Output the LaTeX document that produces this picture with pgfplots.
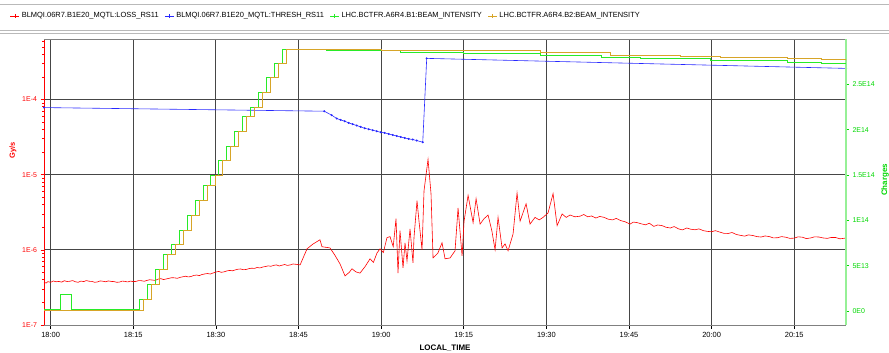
\documentclass[border=0pt]{standalone}
\usepackage{fontspec}
\setmainfont{Liberation Sans}
\usepackage{pgfplots}
\pgfplotsset{compat=1.18}
\definecolor{cred}{RGB}{255,0,0}
\definecolor{cblue}{RGB}{40,40,255}
\definecolor{cgreen}{RGB}{40,235,40}
\definecolor{corange}{RGB}{215,165,40}
\definecolor{cgrid}{RGB}{70,70,70}
\definecolor{rgreen}{RGB}{0,215,0}
\definecolor{raxis}{RGB}{150,240,150}
\begin{document}
\begin{tikzpicture}
\useasboundingbox (0,0) rectangle (889bp,353bp);
\begin{axis}[
  at={(44bp,28bp)}, anchor=south west, scale only axis,
  width=802bp, height=286bp,
  xmin=-1.2, xmax=144.4,
  ymode=log, ymin=1e-7, ymax=6.37e-4,
  axis x line*=bottom, axis y line*=left,
  x axis line style={draw=gray, line width=1pt, -},
  y axis line style={draw=cred, line width=0.8pt, -},
  xtick={0,15,30,45,60,75,90,105,120,135},
  xticklabels={18:00,18:15,18:30,18:45,19:00,19:15,19:30,19:45,20:00,20:15},
  ytick={1e-7,1e-6,1e-5,1e-4},
  yticklabels={1E-7,1E-6,1E-5,1E-4},
  minor ytick={2e-7,3e-7,4e-7,5e-7,6e-7,7e-7,8e-7,9e-7,2e-6,3e-6,4e-6,5e-6,6e-6,7e-6,8e-6,9e-6,2e-5,3e-5,4e-5,5e-5,6e-5,7e-5,8e-5,9e-5,2e-4,3e-4,4e-4,5e-4,6e-4},
  tick align=outside, major tick length=3.5bp, minor tick length=2bp,
  xtick style={black, line width=0.6pt},
  ytick style={cred, line width=0.6pt},
  grid=major,
  major grid style={cgrid, line width=0.9pt},
  /pgf/number format/assume math mode=true,
  xticklabel style={font=\fontsize{7.5}{9}\selectfont, black},
  yticklabel style={font=\fontsize{7}{8}\selectfont, text=cred},
  xlabel={LOCAL\_TIME},
  xlabel style={at={(axis description cs:0.5,0)}, anchor=center, yshift=-23bp, font=\bfseries\fontsize{8}{10}\selectfont},
  ylabel={Gy/s},
  ylabel style={at={(axis description cs:-0.0387,0.612)}, anchor=center, font=\bfseries\fontsize{7.5}{9}\selectfont, text=cred},
  legend columns=4,
  legend style={at={(axis description cs:-0.0424,1.0804)}, anchor=west, draw=none, fill=none, inner sep=0pt,
    font=\fontsize{7.5}{9}\selectfont, /tikz/every even column/.append style={column sep=4bp}},
  legend cell align=left,
  legend image code/.code={\draw[mark repeat=2,mark phase=2,#1] plot coordinates {(0bp,0bp) (4.5bp,0bp) (9bp,0bp)};},
]
\addlegendimage{cred, line width=0.6pt, mark=+, mark size=1.8pt}
\addlegendentry{BLMQI.06R7.B1E20\_MQTL:LOSS\_RS11}
\addlegendimage{cblue, line width=0.6pt, mark=+, mark size=1.8pt}
\addlegendentry{BLMQI.06R7.B1E20\_MQTL:THRESH\_RS11}
\addlegendimage{cgreen, line width=0.6pt, mark=+, mark size=1.8pt}
\addlegendentry{LHC.BCTFR.A6R4.B1:BEAM\_INTENSITY}
\addlegendimage{corange, line width=0.6pt, mark=+, mark size=1.8pt}
\addlegendentry{LHC.BCTFR.A6R4.B2:BEAM\_INTENSITY}
% threshold
\addplot[cblue, line width=0.6pt, mark=*, mark size=0.7pt, forget plot] coordinates {
(-1.2,7.8e-5) (49.69,6.98e-5) (51.03,6.18e-5) (51.94,5.58e-5) (52.66,5.35e-5) (53.39,5.14e-5)
(54.12,4.88e-5) (54.84,4.69e-5) (55.57,4.50e-5) (56.30,4.32e-5) (57.02,4.14e-5) (57.75,4.02e-5)
(58.48,3.90e-5) (59.20,3.78e-5) (59.93,3.66e-5) (60.65,3.59e-5) (61.38,3.48e-5) (62.11,3.37e-5)
(62.83,3.27e-5) (63.56,3.17e-5) (64.29,3.08e-5) (65.01,2.99e-5) (65.74,2.93e-5) (66.47,2.84e-5)
(67.56,2.70e-5) (68.28,3.52e-4) (144.4,2.59e-4)
};
% loss
\addplot[cred, line width=0.6pt, forget plot] coordinates {
(-1.2,3.70e-7) (-0.8,3.62e-7) (-0.5,3.78e-7) (0,3.70e-7) (0.5,3.85e-7) (1,3.76e-7) (1.5,3.80e-7) (2,3.72e-7) (2.5,3.88e-7)
(3,3.79e-7) (3.5,3.82e-7) (4,3.90e-7) (4.5,3.76e-7) (5,3.70e-7) (5.5,3.84e-7) (6,3.78e-7) (6.5,3.90e-7) (7,3.82e-7)
(7.5,3.80e-7) (8,3.70e-7) (8.5,3.74e-7) (9,3.86e-7) (9.5,3.82e-7) (10,3.76e-7) (10.5,3.86e-7) (11,3.80e-7) (11.5,3.78e-7)
(12,3.70e-7) (12.5,3.72e-7) (13,3.84e-7) (13.5,3.80e-7) (14,3.74e-7) (14.5,3.84e-7) (15,3.78e-7) (15.5,3.80e-7)
(16,3.90e-7) (16.5,3.88e-7) (17,3.82e-7) (17.5,3.92e-7) (18,4.00e-7) (18.5,3.96e-7) (19,3.92e-7) (19.5,4.08e-7)
(20,4.14e-7) (20.5,4.02e-7) (21,4.10e-7) (21.5,4.18e-7) (22,4.26e-7) (22.5,4.24e-7) (23,4.18e-7) (23.5,4.30e-7)
(24,4.38e-7) (24.5,4.46e-7) (25,4.36e-7) (25.5,4.42e-7) (26,4.56e-7) (26.5,4.62e-7) (27,4.54e-7) (27.5,4.70e-7)
(28,4.78e-7) (28.5,4.84e-7) (29,4.76e-7) (29.5,4.92e-7) (30,5.06e-7) (30.5,5.16e-7) (31,5.02e-7) (31.5,5.10e-7)
(32,5.24e-7) (32.5,5.32e-7) (33,5.26e-7) (33.5,5.40e-7) (34,5.52e-7) (34.5,5.56e-7) (35,5.44e-7) (35.5,5.48e-7)
(36,5.62e-7) (36.5,5.70e-7) (37,5.66e-7) (37.5,5.82e-7) (38,5.74e-7) (38.5,5.90e-7) (39,6.00e-7) (39.5,6.12e-7)
(40,6.04e-7) (40.5,6.22e-7) (41,6.30e-7) (41.5,6.10e-7) (42,6.24e-7) (42.5,6.38e-7) (43,6.20e-7) (43.5,6.30e-7)
(44,6.48e-7) (44.5,6.42e-7) (45.3,6.30e-7)
(46.55,1.03e-6) (47.6,1.19e-6) (48.9,1.36e-6) (49.27,1.10e-6) (50.72,1.06e-6) (51.6,8.5e-7)
(52.54,6.5e-7) (53.45,4.5e-7) (54.2,5.0e-7) (54.72,5.6e-7) (55.4,5.1e-7) (56.17,4.9e-7) (57.1,6.0e-7)
(57.99,7.6e-7) (58.6,6.8e-7) (59.26,9.1e-7) (59.8,1.03e-6) (60.4,9.2e-7) (61.07,1.45e-6) (61.62,1.50e-6) (62.2,1.1e-6)
(62.71,2.6e-6) (63.07,4.9e-7) (63.43,1.8e-6) (63.98,5.75e-7) (64.34,1.24e-6) (64.7,7.1e-7) (65.25,1.9e-6)
(65.79,6.7e-7) (65.97,1.45e-6) (66.52,4.5e-6) (66.88,2.4e-6) (67.43,1.0e-6) (67.79,6.1e-6) (68.52,1.6e-5)
(69.06,5.6e-6) (69.43,7.8e-7) (70.33,9.1e-7) (71.06,1.24e-6) (71.61,7.6e-7) (72.52,7.8e-7) (73.42,9.7e-7)
(73.97,3.6e-6) (74.7,8.3e-7) (75.06,2.4e-6) (75.79,5.3e-6) (76.7,2.3e-6) (77.24,4.8e-6) (77.97,2.2e-6)
(78.7,2.6e-6) (79.42,2.9e-6) (80.1,1.8e-6) (80.69,1.0e-6) (81.23,2.7e-6) (81.96,1.06e-6) (82.5,1.2e-6) (83.05,9.7e-7)
(83.96,1.63e-6) (84.68,5.7e-6) (85.23,2.4e-6) (86.32,4.1e-6) (87.04,2.2e-6) (87.95,2.7e-6) (88.7,2.5e-6)
(89.4,2.7e-6) (90.31,3.1e-6) (91.22,5.6e-6) (91.95,2.1e-6) (92.86,3.0e-6) (93.6,2.7e-6) (94.3,2.9e-6)
(95.2,2.75e-6) (96.1,2.8e-6) (96.8,2.95e-6) (97.5,2.75e-6) (98.2,2.82e-6) (99,2.65e-6) (99.7,2.78e-6) (100.5,2.7e-6)
(101.2,2.56e-6) (102,2.5e-6) (102.7,2.62e-6) (103.5,2.45e-6) (104.3,2.36e-6) (105.2,2.2e-6) (105.8,2.34e-6) (106.5,2.3e-6)
(107.2,2.22e-6) (108,2.15e-6) (108.7,2.26e-6) (109.5,2.05e-6) (110.2,2.14e-6) (111,2.1e-6) (111.7,2.0e-6) (112.5,1.95e-6)
(113.2,2.04e-6) (114,1.9e-6) (114.7,1.84e-6) (115.5,1.95e-6) (116.2,1.88e-6) (117,1.85e-6) (117.7,1.9e-6) (118.5,1.8e-6)
(119.2,1.76e-6) (120,1.74e-6) (120.7,1.80e-6) (121.5,1.72e-6) (122.2,1.66e-6) (123,1.65e-6) (123.7,1.70e-6) (124.5,1.6e-6)
(125.2,1.56e-6) (126,1.52e-6) (126.7,1.58e-6) (127.5,1.55e-6) (128.2,1.50e-6) (129,1.48e-6) (129.7,1.53e-6) (130.5,1.5e-6)
(131.2,1.44e-6) (132,1.45e-6) (132.7,1.50e-6) (133.5,1.47e-6) (134.2,1.42e-6) (135,1.43e-6) (135.7,1.49e-6) (136.5,1.47e-6)
(137.2,1.41e-6) (138,1.44e-6) (138.7,1.49e-6) (139.5,1.48e-6) (140.2,1.44e-6) (141,1.42e-6) (141.7,1.46e-6) (142.5,1.46e-6)
(143.3,1.40e-6) (144.2,1.43e-6)
};
\draw[gray, line width=0.8pt] (rel axis cs:0,1) -- (rel axis cs:1,1);
\end{axis}
\begin{axis}[
  at={(44bp,28bp)}, anchor=south west, scale only axis,
  width=802bp, height=286bp,
  xmin=-1.2, xmax=144.4,
  ymin=-1.545, ymax=30.02,
  axis x line=none, axis y line*=right,
  y axis line style={draw=raxis, line width=1.2pt, -},
  ytick={0,5,10,15,20,25},
  yticklabels={0E0,5E13,1E14,1.5E14,2E14,2.5E14},
  tick align=outside, major tick length=3bp,
  ytick style={rgreen, line width=0.6pt},
  /pgf/number format/assume math mode=true,
  yticklabel style={font=\fontsize{7}{8}\selectfont, text=rgreen},
  ylabel={Charges},
  ylabel style={at={(axis description cs:1.0486,0.507)}, anchor=center, font=\bfseries\fontsize{8}{10}\selectfont, text=rgreen},
]
\addplot[cgreen, line width=0.6pt, const plot] coordinates {
(-1.2,0.19) (1.82,1.84) (3.74,0.19) (16.09,1.29) (17.53,2.95) (18.98,4.60) (20.42,6.26) (21.86,7.36)
(23.31,8.94) (24.75,10.6) (26.19,12.25) (27.63,13.83) (29.08,15.01) (30.52,16.59) (31.96,18.14)
(33.41,19.79) (34.85,21.45) (36.29,22.48) (37.74,24.14) (39.18,25.75) (40.62,27.34) (42.06,28.89)
(50,28.75) (63.4,28.56) (75,28.42) (88.9,28.26) (100,28.05) (107,27.89) (119.7,27.63) (133.7,27.41)
(140,27.34) (144.4,27.34)
};
\addplot[corange, line width=0.6pt, const plot] coordinates {
(-1.2,0.11) (16.82,1.29) (18.26,2.95) (19.71,4.60) (21.15,6.26) (22.59,7.36)
(24.04,8.94) (25.48,10.6) (26.92,12.25) (28.36,13.83) (29.81,15.01) (31.25,16.59) (32.69,18.14)
(34.14,19.79) (35.58,21.45) (37.02,22.48) (38.47,24.14) (39.91,25.75) (41.35,27.34) (42.79,28.89)
(60,28.75) (88.9,28.5) (101.6,28.26) (114.3,28.15) (121.6,28.0) (133.7,27.89) (140,27.75) (144.4,27.7)
};
\end{axis}
\draw[gray!55, line width=0.6pt] (0,349bp) -- (889bp,349bp);
\draw[gray!55, line width=0.6pt] (0,323bp) -- (889bp,323bp);
\draw[gray!55, line width=0.6pt] (0,320bp) -- (889bp,320bp);
\end{tikzpicture}
\end{document}
